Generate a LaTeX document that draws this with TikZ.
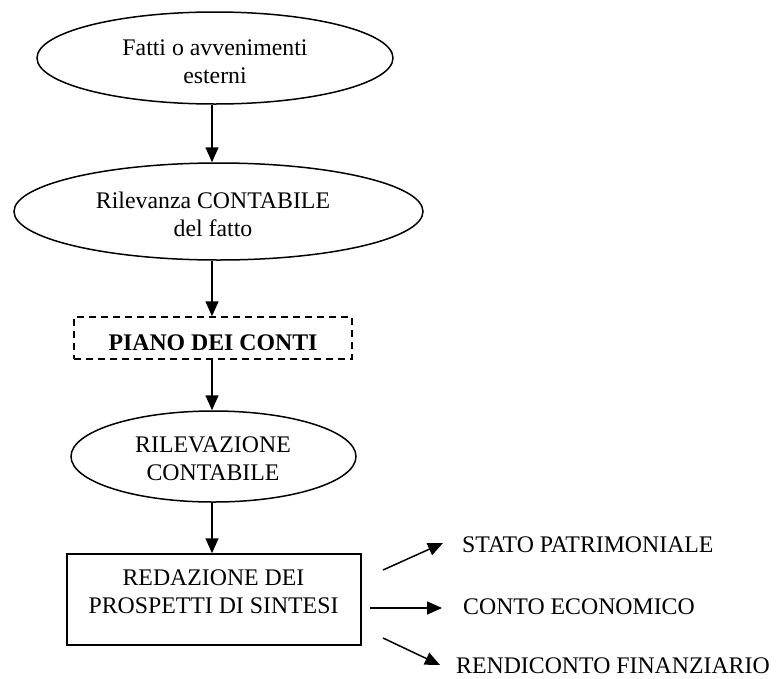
\documentclass[tikz,border=0pt]{standalone}
\usepackage{fontspec}
\setmainfont{Liberation Serif}
\usetikzlibrary{arrows.meta,shapes.geometric}
\begin{document}
\begin{tikzpicture}[x=1pt,y=-1pt,
  lw/.style={line width=1.5pt},
  oval/.style={ellipse,draw,lw,inner sep=0pt},
  txt/.style={align=center,inner sep=0pt,font=\fontsize{23.8}{28}\selectfont},
  arr/.style={lw,-{Triangle[length=15pt,width=13pt]}},
  lbl/.style={anchor=west,inner sep=0pt,font=\fontsize{23.8}{28}\selectfont}]
\useasboundingbox (0,0) rectangle (776,678);
\coordinate (ax) at (212,0);
% shapes
\node[oval,minimum width=356pt,minimum height=92pt] (e1) at (215,58) {};
\node[txt] (t1) at (215,62) {Fatti o avvenimenti\\esterni};
\node[oval,minimum width=409pt,minimum height=97pt] (e2) at (218.5,211.5) {};
\node[txt] (t2) at (213,214) {Rilevanza CONTABILE\\del fatto};
\node[draw,lw,dash pattern=on 7pt off 5pt,minimum width=278pt,minimum height=42pt,inner sep=0pt] (pc) at (213,338) {};
\node[txt,font=\fontsize{23.8}{28}\selectfont\bfseries] (t3) at (213,343) {PIANO DEI CONTI};
\node[oval,minimum width=285pt,minimum height=91pt] (e3) at (213.5,456.5) {};
\node[txt] (t4) at (213,459) {RILEVAZIONE\\CONTABILE};
\node[draw,lw,minimum width=294pt,minimum height=91pt,inner sep=0pt] (bx) at (214,599.5) {};
\node[txt] (t5) at (213.5,592) {REDAZIONE DEI\\PROSPETTI DI SINTESI};
% vertical arrows
\draw[arr] (e1.south -| ax) -- (e2.north -| ax);
\draw[arr] (e2.south -| ax) -- (pc.north -| ax);
\draw[arr] (pc.south -| ax) -- (e3.north -| ax);
\draw[arr] (e3.south -| ax) -- (bx.north -| ax);
% outputs
\node[lbl] (o1) at (462,545) {STATO PATRIMONIALE};
\node[lbl] (o2) at (463,607) {CONTO ECONOMICO};
\node[lbl] (o3) at (456,666) {RENDICONTO FINANZIARIO};
\coordinate (s1) at (383,570);
\coordinate (f1) at (443,543);
\coordinate (s2) at (370,608);
\coordinate (f2) at (442,608);
\coordinate (s3) at (383,638);
\coordinate (f3) at (440,665);
\draw[arr] (s1) -- (f1);
\draw[arr] (s2) -- (f2);
\draw[arr] (s3) -- (f3);
\end{tikzpicture}
\end{document}
